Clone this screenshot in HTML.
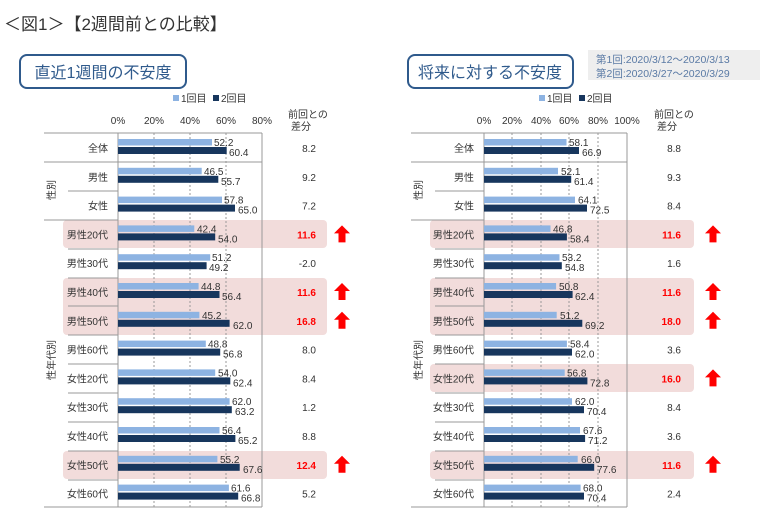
<!DOCTYPE html>
<html><head><meta charset="utf-8"><style>
body{margin:0;background:#fff;}
svg{display:block;font-family:"Liberation Sans","Noto Sans CJK JP",sans-serif;}
.t{font-size:10px;fill:#333}
.lb{font-size:10px;fill:#333;text-anchor:end}
.d{font-size:10px;fill:#333;text-anchor:end}
.r{font-size:10px;fill:#f00;font-weight:bold;text-anchor:end}
.l{fill:#8db3e2}.k{fill:#17365d}
</style></head><body>
<svg width="760" height="529" viewBox="0 0 760 529">
<text x="4" y="30" font-size="17" fill="#333">＜図1＞【2週間前との比較】</text>
<rect x="20" y="55" width="166" height="33" rx="7" fill="#fff" stroke="#2f5a8c" stroke-width="2"/>
<text x="103" y="78" font-size="16" fill="#2f5a8c" text-anchor="middle">直近1週間の不安度</text>
<rect x="408" y="55" width="165" height="33" rx="7" fill="#fff" stroke="#2f5a8c" stroke-width="2"/>
<text x="490" y="78" font-size="16" fill="#2f5a8c" text-anchor="middle">将来に対する不安度</text>
<rect x="588" y="50" width="172" height="30" fill="#eeeeee"/>
<text x="596" y="63" font-size="10.5" fill="#5a7aa5">第1回:2020/3/12～2020/3/13</text>
<text x="596" y="77" font-size="10.5" fill="#5a7aa5">第2回:2020/3/27～2020/3/29</text>

<!-- LEFT -->
<g>
<rect x="173" y="95" width="6" height="6" class="l"/><text x="181" y="102" class="t" font-size="9">1回目</text>
<rect x="213" y="95" width="6" height="6" class="k"/><text x="221" y="102" class="t" font-size="9">2回目</text>
<text x="288" y="118" class="t" font-size="9">前回との</text><text x="291" y="130" class="t" font-size="9">差分</text>
<g class="t" font-size="9" text-anchor="middle"><text x="118" y="124">0%</text><text x="154" y="124">20%</text><text x="190" y="124">40%</text><text x="226" y="124">60%</text><text x="262" y="124">80%</text></g>
<rect x="63" y="220" width="264" height="28" rx="4" fill="#f2dcdb"/>
<rect x="63" y="278" width="264" height="57" rx="4" fill="#f2dcdb"/>
<rect x="63" y="451" width="264" height="28" rx="4" fill="#f2dcdb"/>
<g stroke="#999" stroke-width="1" stroke-dasharray="2,2"><line x1="154" y1="133" x2="154" y2="507"/><line x1="190" y1="133" x2="190" y2="507"/><line x1="226" y1="133" x2="226" y2="507"/></g>
<g stroke="#999" stroke-width="1"><line x1="118" y1="133" x2="118" y2="507"/><line x1="262" y1="133" x2="262" y2="507"/>
<line x1="44" y1="133" x2="262" y2="133"/><line x1="44" y1="507" x2="262" y2="507"/>
<line x1="44" y1="162" x2="262" y2="162"/><line x1="68" y1="191" x2="118" y2="191"/><line x1="44" y1="220" x2="118" y2="220"/>
<line x1="68" y1="249" x2="118" y2="249"/><line x1="68" y1="278" x2="118" y2="278"/><line x1="68" y1="306" x2="118" y2="306"/><line x1="68" y1="335" x2="118" y2="335"/><line x1="68" y1="364" x2="118" y2="364"/><line x1="68" y1="393" x2="118" y2="393"/><line x1="68" y1="422" x2="118" y2="422"/><line x1="68" y1="451" x2="118" y2="451"/><line x1="68" y1="480" x2="118" y2="480"/></g>
<text class="t" transform="translate(55,190) rotate(-90)" text-anchor="middle">性別</text>
<text class="t" transform="translate(55,360) rotate(-90)" text-anchor="middle">性年代別</text>
<g transform="translate(0,148)"><text x="108" y="4" class="lb">全体</text><rect x="118" y="-9" width="94" height="6.5" class="l"/><rect x="118" y="-1" width="108.7" height="7" class="k"/><text x="214" y="-2" class="t">52.2</text><text x="229" y="8" class="t">60.4</text><text x="316" y="4" class="d">8.2</text></g>
<g transform="translate(0,176.8)"><text x="108" y="4" class="lb">男性</text><rect x="118" y="-9" width="83.7" height="6.5" class="l"/><rect x="118" y="-1" width="100.3" height="7" class="k"/><text x="204" y="-2" class="t">46.5</text><text x="221" y="8" class="t">55.7</text><text x="316" y="4" class="d">9.2</text></g>
<g transform="translate(0,205.6)"><text x="108" y="4" class="lb">女性</text><rect x="118" y="-9" width="104" height="6.5" class="l"/><rect x="118" y="-1" width="117" height="7" class="k"/><text x="224" y="-2" class="t">57.8</text><text x="238" y="8" class="t">65.0</text><text x="316" y="4" class="d">7.2</text></g>
<g transform="translate(0,234.4)"><text x="108" y="4" class="lb">男性20代</text><rect x="118" y="-9" width="76.3" height="6.5" class="l"/><rect x="118" y="-1" width="97.2" height="7" class="k"/><text x="197" y="-2" class="t">42.4</text><text x="218" y="8" class="t">54.0</text><text x="316" y="4" class="r">11.6</text></g>
<g transform="translate(0,263.2)"><text x="108" y="4" class="lb">男性30代</text><rect x="118" y="-9" width="92.2" height="6.5" class="l"/><rect x="118" y="-1" width="88.6" height="7" class="k"/><text x="212" y="-2" class="t">51.2</text><text x="209" y="8" class="t">49.2</text><text x="316" y="4" class="d">-2.0</text></g>
<g transform="translate(0,292)"><text x="108" y="4" class="lb">男性40代</text><rect x="118" y="-9" width="80.6" height="6.5" class="l"/><rect x="118" y="-1" width="101.5" height="7" class="k"/><text x="201" y="-2" class="t">44.8</text><text x="222" y="8" class="t">56.4</text><text x="316" y="4" class="r">11.6</text></g>
<g transform="translate(0,320.8)"><text x="108" y="4" class="lb">男性50代</text><rect x="118" y="-9" width="81.4" height="6.5" class="l"/><rect x="118" y="-1" width="111.6" height="7" class="k"/><text x="202" y="-2" class="t">45.2</text><text x="233" y="8" class="t">62.0</text><text x="316" y="4" class="r">16.8</text></g>
<g transform="translate(0,349.6)"><text x="108" y="4" class="lb">男性60代</text><rect x="118" y="-9" width="87.8" height="6.5" class="l"/><rect x="118" y="-1" width="102.2" height="7" class="k"/><text x="208" y="-2" class="t">48.8</text><text x="223" y="8" class="t">56.8</text><text x="316" y="4" class="d">8.0</text></g>
<g transform="translate(0,378.4)"><text x="108" y="4" class="lb">女性20代</text><rect x="118" y="-9" width="97.2" height="6.5" class="l"/><rect x="118" y="-1" width="112.3" height="7" class="k"/><text x="218" y="-2" class="t">54.0</text><text x="233" y="8" class="t">62.4</text><text x="316" y="4" class="d">8.4</text></g>
<g transform="translate(0,407.2)"><text x="108" y="4" class="lb">女性30代</text><rect x="118" y="-9" width="111.6" height="6.5" class="l"/><rect x="118" y="-1" width="113.8" height="7" class="k"/><text x="232" y="-2" class="t">62.0</text><text x="235" y="8" class="t">63.2</text><text x="316" y="4" class="d">1.2</text></g>
<g transform="translate(0,436)"><text x="108" y="4" class="lb">女性40代</text><rect x="118" y="-9" width="101.5" height="6.5" class="l"/><rect x="118" y="-1" width="117.4" height="7" class="k"/><text x="222" y="-2" class="t">56.4</text><text x="238" y="8" class="t">65.2</text><text x="316" y="4" class="d">8.8</text></g>
<g transform="translate(0,464.8)"><text x="108" y="4" class="lb">女性50代</text><rect x="118" y="-9" width="99.4" height="6.5" class="l"/><rect x="118" y="-1" width="121.7" height="7" class="k"/><text x="220" y="-2" class="t">55.2</text><text x="243" y="8" class="t">67.6</text><text x="316" y="4" class="r">12.4</text></g>
<g transform="translate(0,493.6)"><text x="108" y="4" class="lb">女性60代</text><rect x="118" y="-9" width="110.9" height="6.5" class="l"/><rect x="118" y="-1" width="120.2" height="7" class="k"/><text x="231" y="-2" class="t">61.6</text><text x="241" y="8" class="t">66.8</text><text x="316" y="4" class="d">5.2</text></g>
<g fill="#f00">
<polygon transform="translate(342,234.4)" points="0,-9 8,-1 3.5,-1 3.5,8 -3.5,8 -3.5,-1 -8,-1"/>
<polygon transform="translate(342,292)" points="0,-9 8,-1 3.5,-1 3.5,8 -3.5,8 -3.5,-1 -8,-1"/>
<polygon transform="translate(342,320.8)" points="0,-9 8,-1 3.5,-1 3.5,8 -3.5,8 -3.5,-1 -8,-1"/>
<polygon transform="translate(342,464.8)" points="0,-9 8,-1 3.5,-1 3.5,8 -3.5,8 -3.5,-1 -8,-1"/>
</g>
</g>

<!-- RIGHT -->
<g>
<rect x="539" y="95" width="6" height="6" class="l"/><text x="547" y="102" class="t" font-size="9">1回目</text>
<rect x="579" y="95" width="6" height="6" class="k"/><text x="587" y="102" class="t" font-size="9">2回目</text>
<text x="654" y="118" class="t" font-size="9">前回との</text><text x="657" y="130" class="t" font-size="9">差分</text>
<g class="t" font-size="9" text-anchor="middle"><text x="484" y="124">0%</text><text x="512" y="124">20%</text><text x="541" y="124">40%</text><text x="569" y="124">60%</text><text x="598" y="124">80%</text><text x="627" y="124">100%</text></g>
<rect x="430" y="220" width="264" height="28" rx="4" fill="#f2dcdb"/>
<rect x="430" y="278" width="264" height="57" rx="4" fill="#f2dcdb"/>
<rect x="430" y="364" width="264" height="28" rx="4" fill="#f2dcdb"/>
<rect x="430" y="451" width="264" height="28" rx="4" fill="#f2dcdb"/>
<g stroke="#999" stroke-width="1" stroke-dasharray="2,2"><line x1="512" y1="133" x2="512" y2="507"/><line x1="541" y1="133" x2="541" y2="507"/><line x1="569" y1="133" x2="569" y2="507"/><line x1="598" y1="133" x2="598" y2="507"/></g>
<g stroke="#999" stroke-width="1"><line x1="484" y1="133" x2="484" y2="507"/><line x1="627" y1="133" x2="627" y2="507"/>
<line x1="411" y1="133" x2="627" y2="133"/><line x1="411" y1="507" x2="627" y2="507"/>
<line x1="411" y1="162" x2="627" y2="162"/><line x1="435" y1="191" x2="484" y2="191"/><line x1="411" y1="220" x2="484" y2="220"/>
<line x1="435" y1="249" x2="484" y2="249"/><line x1="435" y1="278" x2="484" y2="278"/><line x1="435" y1="306" x2="484" y2="306"/><line x1="435" y1="335" x2="484" y2="335"/><line x1="435" y1="364" x2="484" y2="364"/><line x1="435" y1="393" x2="484" y2="393"/><line x1="435" y1="422" x2="484" y2="422"/><line x1="435" y1="451" x2="484" y2="451"/><line x1="435" y1="480" x2="484" y2="480"/></g>
<text class="t" transform="translate(422,190) rotate(-90)" text-anchor="middle">性別</text>
<text class="t" transform="translate(422,360) rotate(-90)" text-anchor="middle">性年代別</text>
<g transform="translate(0,148)"><text x="474" y="4" class="lb">全体</text><rect x="484" y="-9" width="82.5" height="6.5" class="l"/><rect x="484" y="-1" width="95" height="7" class="k"/><text x="569" y="-2" class="t">58.1</text><text x="582" y="8" class="t">66.9</text><text x="681" y="4" class="d">8.8</text></g>
<g transform="translate(0,176.8)"><text x="474" y="4" class="lb">男性</text><rect x="484" y="-9" width="74" height="6.5" class="l"/><rect x="484" y="-1" width="87.2" height="7" class="k"/><text x="561" y="-2" class="t">52.1</text><text x="574" y="8" class="t">61.4</text><text x="681" y="4" class="d">9.3</text></g>
<g transform="translate(0,205.6)"><text x="474" y="4" class="lb">女性</text><rect x="484" y="-9" width="91" height="6.5" class="l"/><rect x="484" y="-1" width="103" height="7" class="k"/><text x="578" y="-2" class="t">64.1</text><text x="590" y="8" class="t">72.5</text><text x="681" y="4" class="d">8.4</text></g>
<g transform="translate(0,234.4)"><text x="474" y="4" class="lb">男性20代</text><rect x="484" y="-9" width="66.5" height="6.5" class="l"/><rect x="484" y="-1" width="82.9" height="7" class="k"/><text x="553" y="-2" class="t">46.8</text><text x="570" y="8" class="t">58.4</text><text x="681" y="4" class="r">11.6</text></g>
<g transform="translate(0,263.2)"><text x="474" y="4" class="lb">男性30代</text><rect x="484" y="-9" width="75.5" height="6.5" class="l"/><rect x="484" y="-1" width="77.8" height="7" class="k"/><text x="562" y="-2" class="t">53.2</text><text x="565" y="8" class="t">54.8</text><text x="681" y="4" class="d">1.6</text></g>
<g transform="translate(0,292)"><text x="474" y="4" class="lb">男性40代</text><rect x="484" y="-9" width="72.1" height="6.5" class="l"/><rect x="484" y="-1" width="88.6" height="7" class="k"/><text x="559" y="-2" class="t">50.8</text><text x="575" y="8" class="t">62.4</text><text x="681" y="4" class="r">11.6</text></g>
<g transform="translate(0,320.8)"><text x="474" y="4" class="lb">男性50代</text><rect x="484" y="-9" width="72.7" height="6.5" class="l"/><rect x="484" y="-1" width="98.3" height="7" class="k"/><text x="560" y="-2" class="t">51.2</text><text x="585" y="8" class="t">69.2</text><text x="681" y="4" class="r">18.0</text></g>
<g transform="translate(0,349.6)"><text x="474" y="4" class="lb">男性60代</text><rect x="484" y="-9" width="82.9" height="6.5" class="l"/><rect x="484" y="-1" width="88" height="7" class="k"/><text x="570" y="-2" class="t">58.4</text><text x="575" y="8" class="t">62.0</text><text x="681" y="4" class="d">3.6</text></g>
<g transform="translate(0,378.4)"><text x="474" y="4" class="lb">女性20代</text><rect x="484" y="-9" width="80.7" height="6.5" class="l"/><rect x="484" y="-1" width="103.4" height="7" class="k"/><text x="567" y="-2" class="t">56.8</text><text x="590" y="8" class="t">72.8</text><text x="681" y="4" class="r">16.0</text></g>
<g transform="translate(0,407.2)"><text x="474" y="4" class="lb">女性30代</text><rect x="484" y="-9" width="88" height="6.5" class="l"/><rect x="484" y="-1" width="100" height="7" class="k"/><text x="575" y="-2" class="t">62.0</text><text x="587" y="8" class="t">70.4</text><text x="681" y="4" class="d">8.4</text></g>
<g transform="translate(0,436)"><text x="474" y="4" class="lb">女性40代</text><rect x="484" y="-9" width="96" height="6.5" class="l"/><rect x="484" y="-1" width="101.1" height="7" class="k"/><text x="583" y="-2" class="t">67.6</text><text x="588" y="8" class="t">71.2</text><text x="681" y="4" class="d">3.6</text></g>
<g transform="translate(0,464.8)"><text x="474" y="4" class="lb">女性50代</text><rect x="484" y="-9" width="93.7" height="6.5" class="l"/><rect x="484" y="-1" width="110.2" height="7" class="k"/><text x="581" y="-2" class="t">66.0</text><text x="597" y="8" class="t">77.6</text><text x="681" y="4" class="r">11.6</text></g>
<g transform="translate(0,493.6)"><text x="474" y="4" class="lb">女性60代</text><rect x="484" y="-9" width="96.6" height="6.5" class="l"/><rect x="484" y="-1" width="100" height="7" class="k"/><text x="583" y="-2" class="t">68.0</text><text x="587" y="8" class="t">70.4</text><text x="681" y="4" class="d">2.4</text></g>
<g fill="#f00">
<polygon transform="translate(713,234.4)" points="0,-9 8,-1 3.5,-1 3.5,8 -3.5,8 -3.5,-1 -8,-1"/>
<polygon transform="translate(713,292)" points="0,-9 8,-1 3.5,-1 3.5,8 -3.5,8 -3.5,-1 -8,-1"/>
<polygon transform="translate(713,320.8)" points="0,-9 8,-1 3.5,-1 3.5,8 -3.5,8 -3.5,-1 -8,-1"/>
<polygon transform="translate(713,378.4)" points="0,-9 8,-1 3.5,-1 3.5,8 -3.5,8 -3.5,-1 -8,-1"/>
<polygon transform="translate(713,464.8)" points="0,-9 8,-1 3.5,-1 3.5,8 -3.5,8 -3.5,-1 -8,-1"/>
</g>
</g>
</svg>
</body></html>
